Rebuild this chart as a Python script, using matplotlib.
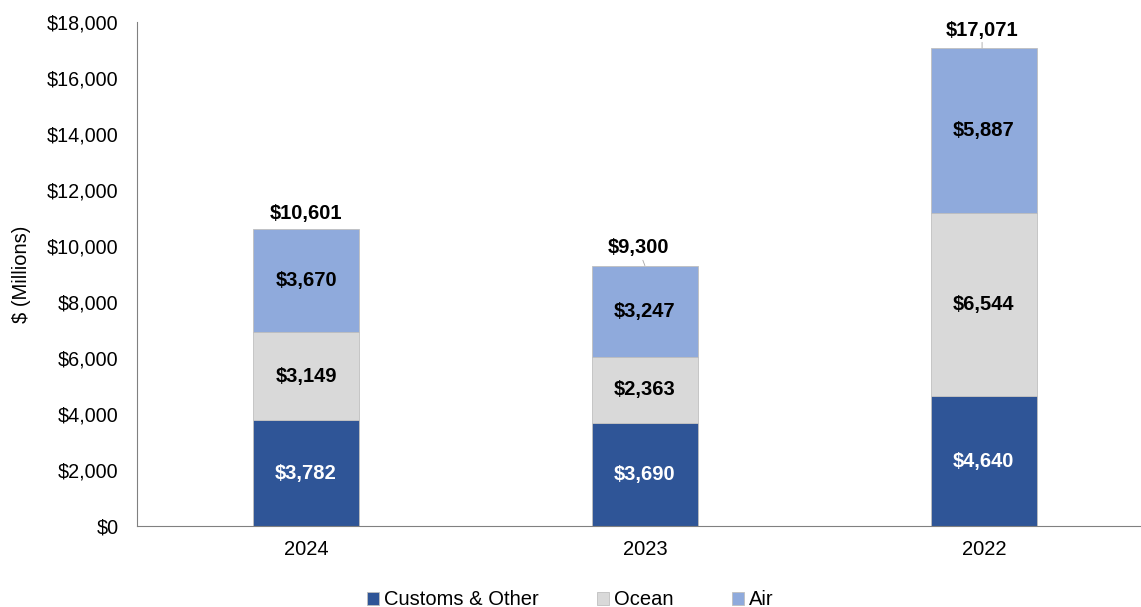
import matplotlib
matplotlib.use("Agg")
from matplotlib import pyplot as plt
import numpy as np

plt.rcParams['font.family'] = ['Liberation Sans', 'DejaVu Sans']

years = ["2024", "2023", "2022"]
customs = [3782, 3690, 4640]
ocean = [3149, 2363, 6544]
air = [3670, 3247, 5887]
totals = [10601, 9300, 17071]

c_customs = '#2F5597'
c_ocean = '#D9D9D9'
c_air = '#8FAADC'

fig = plt.figure(figsize=(11.41, 6.07), dpi=100)
ax = fig.add_axes([0.1197, 0.1334, 0.891, 0.8304])

x = np.arange(len(years))
w = 0.313
customs = np.array(customs)
ocean = np.array(ocean)
air = np.array(air)

b1 = ax.bar(x, customs, w, color=c_customs, edgecolor='#BFBFBF', linewidth=0.6, label='Customs & Other')
b2 = ax.bar(x, ocean, w, bottom=customs, color=c_ocean, edgecolor='#BFBFBF', linewidth=0.6, label='Ocean')
b3 = ax.bar(x, air, w, bottom=customs + ocean, color=c_air, edgecolor='#BFBFBF', linewidth=0.6, label='Air')

fs = 14.5
for i in range(len(years)):
    ax.text(x[i], customs[i] / 2, "${:,}".format(customs[i]), ha='center', va='center',
            color='white', fontsize=fs, fontweight='bold')
    ax.text(x[i], customs[i] + ocean[i] / 2, "${:,}".format(ocean[i]), ha='center', va='center',
            color='black', fontsize=fs, fontweight='bold')
    ax.text(x[i], customs[i] + ocean[i] + air[i] / 2, "${:,}".format(air[i]), ha='center', va='center',
            color='black', fontsize=fs, fontweight='bold')

# totals, with small leader lines like the source
ax.text(x[0], totals[0] + 560, "${:,}".format(totals[0]), ha='center', va='center',
        fontsize=fs, fontweight='bold')
ax.annotate("${:,}".format(totals[1]), xy=(x[1], totals[1]), xytext=(x[1] - 0.02, totals[1] + 630),
            ha='center', va='center', fontsize=fs, fontweight='bold',
            arrowprops=dict(arrowstyle='-', color='#A6A6A6', lw=0.6, shrinkA=7, shrinkB=0))
ax.annotate("${:,}".format(totals[2]), xy=(x[2] - 0.005, totals[2]), xytext=(x[2] - 0.005, totals[2] + 640),
            ha='center', va='center', fontsize=fs, fontweight='bold',
            arrowprops=dict(arrowstyle='-', color='#A6A6A6', lw=0.6, shrinkA=7, shrinkB=0))

ax.set_xlim(-0.5, 2.5)
ax.set_ylim(0, 18000)
ax.set_yticks(np.arange(0, 18001, 2000))
ax.set_yticklabels(["${:,}".format(v) for v in range(0, 18001, 2000)])
ax.set_xticks(x)
ax.set_xticklabels(years)
ax.tick_params(axis='y', length=0, labelsize=14.2, pad=13)
ax.tick_params(axis='x', length=0, labelsize=14.5, pad=10)
ax.set_ylabel("$ (Millions)", fontsize=14.5, labelpad=11)

for s in ['top', 'right']:
    ax.spines[s].set_visible(False)
ax.spines['left'].set_color('#808080')
ax.spines['bottom'].set_color('#808080')

fig.legend(handles=[b1, b2, b3], loc='center', bbox_to_anchor=(0.5, 0.012), ncol=3,
           frameon=False, fontsize=14.5, handlelength=0.6, handleheight=0.6,
           handletextpad=0.25, columnspacing=2.9)

fig.savefig("out.png", dpi=100)
